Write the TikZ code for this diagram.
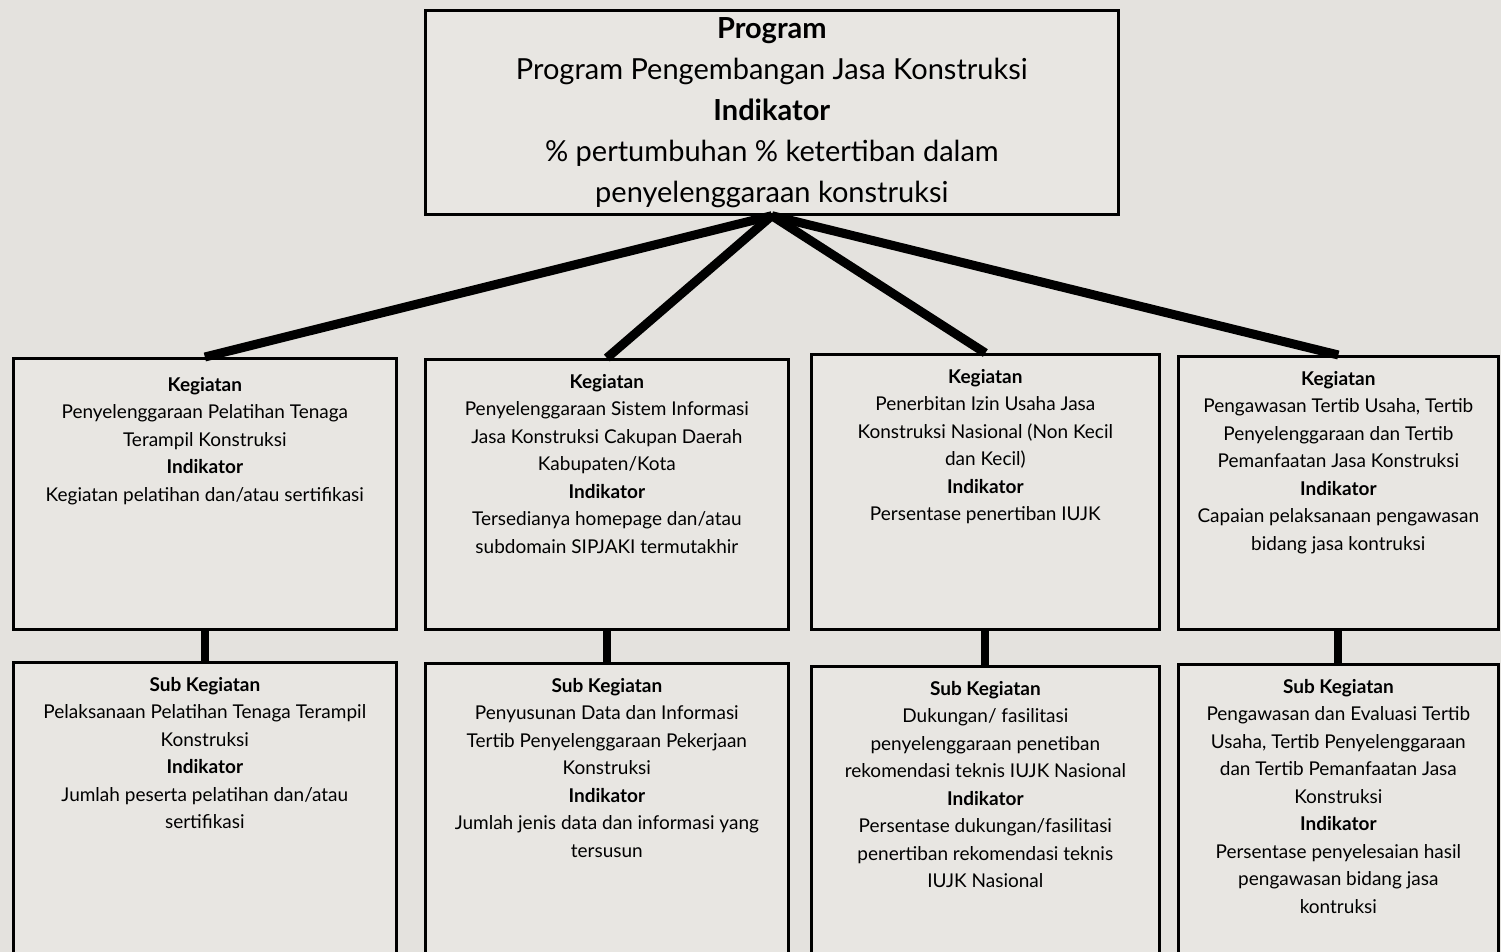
\documentclass[tikz,border=0pt]{standalone}
\usepackage{fontspec}
\setmainfont{Lato}
\usetikzlibrary{positioning}
\definecolor{latar}{RGB}{228,226,222}
\definecolor{isian}{RGB}{232,230,226}
\tikzset{
  panel/.style={draw=black, line width=2.7pt, fill=isian, inner sep=0pt, anchor=north west},
  isi/.style={align=center, inner sep=0pt, anchor=north, text=black,
    font=\fontsize{19}{27.5}\selectfont},
  garis/.style={line width=9pt},
}

\begin{document}
\begin{tikzpicture}[x=1pt, y=-1pt]
    \useasboundingbox (0,0) rectangle (1501,952);
    \clip (0,0) rectangle (1501,952);
    \fill[latar] (0,0) rectangle (1501,952);

    % program
    \node[panel, minimum width=693pt, minimum height=204pt] (prog) at (424,9) {};
    \node[isi, font=\fontsize{29}{41}\selectfont] (progt) at ([yshift=-8pt]prog.north)
        {\textbf{Program}\\ Program Pengembangan Jasa Konstruksi\\ \textbf{Indikator}\\
         \% pertumbuhan \% ketertiban dalam\\ penyelenggaraan konstruksi};

    % kegiatan
    \node[panel, minimum width=383pt, minimum height=271pt] (keg1) at (12,357) {};
    \node[panel, minimum width=363pt, minimum height=270pt] (keg2) at (424,358) {};
    \node[panel, minimum width=348pt, minimum height=275pt] (keg3) at (810,353) {};
    \node[panel, minimum width=320pt, minimum height=273pt] (keg4) at (1177,355) {};

    \node[isi] (keg1t) at ([yshift=-20pt]keg1.north)
        {\textbf{Kegiatan}\\Penyelenggaraan Pelatihan Tenaga\\Terampil Konstruksi\\
         \textbf{Indikator}\\Kegiatan pelatihan dan/atau sertifikasi};
    \node[isi] (keg2t) at ([yshift=-16pt]keg2.north)
        {\textbf{Kegiatan}\\Penyelenggaraan Sistem Informasi\\Jasa Konstruksi Cakupan Daerah\\
         Kabupaten/Kota\\\textbf{Indikator}\\Tersedianya homepage dan/atau\\
         subdomain SIPJAKI termutakhir};
    \node[isi] (keg3t) at ([yshift=-16pt]keg3.north)
        {\textbf{Kegiatan}\\Penerbitan Izin Usaha Jasa\\Konstruksi Nasional (Non Kecil\\
         dan Kecil)\\\textbf{Indikator}\\Persentase penertiban IUJK};
    \node[isi] (keg4t) at ([yshift=-16pt]keg4.north)
        {\textbf{Kegiatan}\\Pengawasan Tertib Usaha, Tertib\\Penyelenggaraan dan Tertib\\
         Pemanfaatan Jasa Konstruksi\\\textbf{Indikator}\\Capaian pelaksanaan pengawasan\\
         bidang jasa kontruksi};

    % sub kegiatan
    \node[panel, minimum width=383pt, minimum height=320pt] (sub1) at (12,661) {};
    \node[panel, minimum width=363pt, minimum height=320pt] (sub2) at (424,662) {};
    \node[panel, minimum width=348pt, minimum height=320pt] (sub3) at (810,665) {};
    \node[panel, minimum width=320pt, minimum height=320pt] (sub4) at (1177,663) {};

    \node[isi] (sub1t) at ([yshift=-16pt]sub1.north)
        {\textbf{Sub Kegiatan}\\Pelaksanaan Pelatihan Tenaga Terampil\\Konstruksi\\
         \textbf{Indikator}\\Jumlah peserta pelatihan dan/atau\\sertifikasi};
    \node[isi] (sub2t) at ([yshift=-16pt]sub2.north)
        {\textbf{Sub Kegiatan}\\Penyusunan Data dan Informasi\\Tertib Penyelenggaraan Pekerjaan\\
         Konstruksi\\\textbf{Indikator}\\Jumlah jenis data dan informasi yang\\tersusun};
    \node[isi] (sub3t) at ([yshift=-16pt]sub3.north)
        {\textbf{Sub Kegiatan}\\Dukungan/ fasilitasi\\penyelenggaraan penetiban\\
         rekomendasi teknis IUJK Nasional\\\textbf{Indikator}\\Persentase dukungan/fasilitasi\\
         penertiban rekomendasi teknis\\IUJK Nasional};
    \node[isi] (sub4t) at ([yshift=-16pt]sub4.north)
        {\textbf{Sub Kegiatan}\\Pengawasan dan Evaluasi Tertib\\Usaha, Tertib Penyelenggaraan\\
         dan Tertib Pemanfaatan Jasa\\Konstruksi\\\textbf{Indikator}\\
         Persentase penyelesaian hasil\\pengawasan bidang jasa\\kontruksi};

    % garis penghubung
    \draw[garis] (prog.south) -- (keg1.north);
    \draw[garis] (prog.south) -- (keg2.north);
    \draw[garis] (prog.south) -- (keg3.north);
    \draw[garis] (prog.south) -- (keg4.north);
    \draw[garis, line width=8pt] (keg1.south) -- (sub1.north);
    \draw[garis, line width=8pt] (keg2.south) -- (sub2.north);
    \draw[garis, line width=8pt] (keg3.south) -- (sub3.north);
    \draw[garis, line width=8pt] (keg4.south) -- (sub4.north);
\end{tikzpicture}
\end{document}
